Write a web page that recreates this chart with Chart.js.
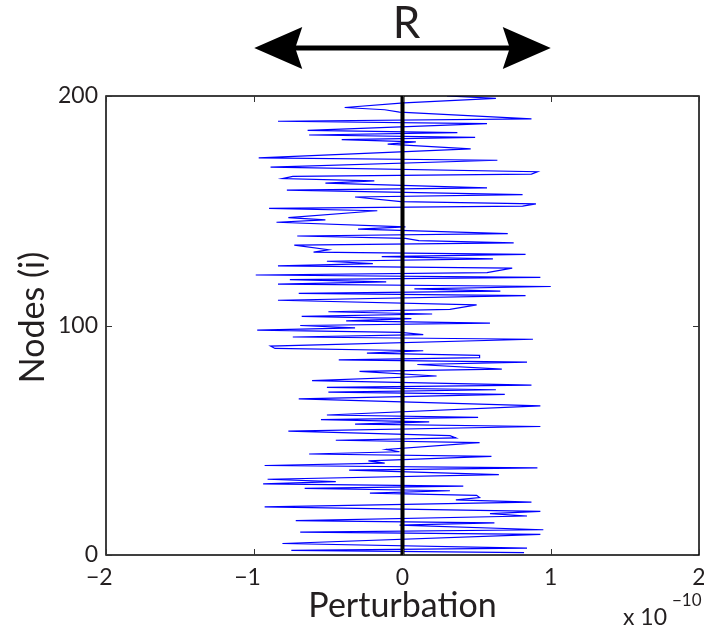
<!DOCTYPE html>
<html>
<head>
<meta charset="utf-8">
<title>Perturbation per node</title>
<script src="https://cdn.jsdelivr.net/npm/chart.js@4.4.0/dist/chart.umd.min.js"></script>
<style>
    html, body { margin: 0; padding: 0; background: #fff; }
    #wrap { width: 704px; height: 628px; }
</style>
</head>
<body>
<div id="wrap"><canvas id="perturbChart" width="704" height="628"></canvas></div>
<script>
// --- Data ---
// node index i, bottom to top; only the visible vertices of the trace
const nodes = [
    1, 2, 3, 5, 9, 10, 11, 13, 14, 15, 17, 18, 19, 21, 23, 24, 25, 26, 27, 28,
    29, 30, 31, 32, 33, 35, 37, 38, 39, 40, 41, 43, 44, 45, 46, 49, 50, 51, 52, 54,
    56, 57, 58, 59, 60, 61, 65, 68, 70, 71, 72, 73, 74, 76, 78, 80, 81, 83, 84, 85,
    86, 87, 88, 89, 90, 91, 94, 95, 96, 97, 98, 99, 100, 101, 102, 103, 104, 105, 106, 107,
    109, 111, 113, 114, 115, 116, 117, 118, 119, 120, 121, 122, 123, 125, 126, 127, 128, 129, 130, 131,
    132, 133, 135, 136, 137, 138, 139, 140, 142, 143, 145, 146, 147, 150, 151, 152, 153, 154, 156, 157,
    159, 160, 162, 163, 164, 165, 166, 167, 169, 172, 173, 177, 179, 180, 181, 182, 183, 184, 185, 188,
    189, 190, 193, 194, 195, 197, 199, 200
];
// perturbation at each node, in units of 1e-10
const perturbation = [
    0.82, -0.75, 0.84, -0.81, 0.93, -0.69, 0.95, -0.02, 0.62, -0.72, 0.84, 0.59, 0.93, -0.93, 0.87, 0.36, 0.52, 0.50, -0.22, 0.32,
    -0.66, 0.41, -0.94, -0.45, -0.91, 0.65, -0.36, 0.91, -0.93, -0.12, -0.23, 0.60, -0.63, -0.02, -0.11, 0.52, -0.45, 0.36, 0.32, -0.77,
    0.93, -0.32, 0.18, -0.55, 0.51, -0.51, 0.93, -0.70, 0.69, -0.50, 0.63, -0.51, 0.87, -0.61, 0.23, -0.29, 0.67, 0.10, 0.84, -0.43,
    0.52, 0.52, -0.24, 0.14, -0.86, -0.89, 0.88, -0.74, 0.14, -0.01, -0.98, -0.32, -0.69, 0.59, -0.38, 0.06, -0.68, 0.20, -0.50, 0.32,
    0.50, -0.84, 0.83, -0.70, 0.66, 0.08, 1.00, -0.84, -0.11, -0.76, 0.93, -0.99, 0.57, 0.74, -0.84, -0.20, -0.51, 0.61, -0.14, 0.83,
    -0.60, -0.50, -0.73, 0.75, 0.11, 0.02, -0.71, 0.71, -0.30, 0.02, -0.85, -0.52, -0.77, -0.17, -0.90, 0.81, 0.90, -0.01, -0.32, 0.81,
    -0.78, 0.57, -0.52, -0.19, -0.81, -0.74, 0.87, 0.91, -0.89, 0.64, -0.97, 0.46, -0.10, 0.09, -0.41, 0.49, -0.63, 0.37, -0.64, 0.57,
    -0.84, 0.87, -0.02, -0.12, -0.39, 0.01, 0.63, 0.30
];

// vertical reference line at zero perturbation
const zeroLineX = [0, 0];
const zeroLineY = [0, 200];

// tick values and labels
const xTicks = [-2, -1, 0, 1, 2];
const yTicks = [0, 100, 200];
const xTitle = "Perturbation";
const yTitle = "Nodes (i)";
const xMultiplier = "x 10";
const xExponent = "\u221210";

// the double arrow "R" spans this range of the x axis
const rangeLabel = "R";
const rangeSpan = [-1, 1];

const FONT = "Lato, 'Open Sans', sans-serif";
const TEXT = "#231f20";

// --- Box, inward ticks, labels and the R arrow ---
const decorations = {
    id: "decorations",
    afterDatasetsDraw(chart) {
        const { ctx, chartArea: a, scales: { x, y } } = chart;
        ctx.save();

        // axes box
        ctx.strokeStyle = "#000";
        ctx.lineWidth = 1.5;
        ctx.strokeRect(a.left, a.top, a.right - a.left, a.bottom - a.top);

        // inward tick marks (top/bottom and left/right)
        ctx.lineWidth = 1;
        ctx.strokeStyle = "#333";
        ctx.beginPath();
        xTicks.forEach(v => {
            const px = Math.round(x.getPixelForValue(v)) + 0.5;
            ctx.moveTo(px, a.bottom); ctx.lineTo(px, a.bottom - 6);
            ctx.moveTo(px, a.top); ctx.lineTo(px, a.top + 6);
        });
        yTicks.forEach(v => {
            const py = Math.round(y.getPixelForValue(v)) + 0.5;
            ctx.moveTo(a.left, py); ctx.lineTo(a.left + 6, py);
            ctx.moveTo(a.right, py); ctx.lineTo(a.right - 6, py);
        });
        ctx.stroke();

        // x tick labels: digit centred on the tick, minus sign hangs to the left
        ctx.fillStyle = TEXT;
        ctx.font = "23px " + FONT;
        ctx.textBaseline = "alphabetic";
        xTicks.forEach(v => {
            const px = x.getPixelForValue(v);
            const digits = String(Math.abs(v));
            const w = ctx.measureText(digits).width;
            ctx.textAlign = "center";
            ctx.fillText(digits, px, a.bottom + 30);
            if (v < 0) {
                ctx.textAlign = "right";
                ctx.fillText("\u2212", px - w / 2, a.bottom + 30);
            }
        });

        // x axis title
        ctx.font = "34px " + FONT;
        ctx.textAlign = "center";
        ctx.fillText(xTitle, (a.left + a.right) / 2, a.bottom + 62);

        // y axis title
        ctx.save();
        ctx.translate(44, (a.top + a.bottom) / 2 - 8);
        ctx.rotate(-Math.PI / 2);
        ctx.fillText(yTitle, 0, 0);
        ctx.restore();

        // x 10^-10 multiplier
        ctx.textAlign = "left";
        ctx.font = "23px " + FONT;
        ctx.fillText(xMultiplier, a.right - 76, a.bottom + 70);
        ctx.font = "17px " + FONT;
        ctx.fillText(xExponent, a.right - 27, a.bottom + 51);

        // R double arrow above the plot
        const x0 = x.getPixelForValue(rangeSpan[0]);
        const x1 = x.getPixelForValue(rangeSpan[1]);
        const ay = 48;
        ctx.strokeStyle = "#000";
        ctx.fillStyle = "#000";
        ctx.lineWidth = 5;
        ctx.beginPath();
        ctx.moveTo(x0 + 40, ay); ctx.lineTo(x1 - 40, ay);
        ctx.stroke();
        [[x0, 1], [x1, -1]].forEach(([tip, dir]) => {
            ctx.beginPath();
            ctx.moveTo(tip, ay);
            ctx.lineTo(tip + dir * 48, ay - 21);
            ctx.lineTo(tip + dir * 41, ay);
            ctx.lineTo(tip + dir * 48, ay + 21);
            ctx.closePath();
            ctx.fill();
        });
        ctx.fillStyle = TEXT;
        ctx.font = "44px " + FONT;
        ctx.textAlign = "center";
        ctx.fillText(rangeLabel, (x0 + x1) / 2 + 4, 38);

        ctx.restore();
    }
};

// --- Chart ---
const ctx = document.getElementById("perturbChart").getContext("2d");
new Chart(ctx, {
    type: "scatter",
    data: {
        datasets: [
            {
                // zero line, drawn on top of the trace
                data: zeroLineX.map((v, k) => ({ x: v, y: zeroLineY[k] })),
                showLine: true,
                borderColor: "#000",
                borderWidth: 4,
                pointRadius: 0
            },
            {
                data: nodes.map((n, k) => ({ x: perturbation[k], y: n })),
                showLine: true,
                borderColor: "#0000ff",
                borderWidth: 1.2,
                pointRadius: 0,
                tension: 0
            }
        ]
    },
    options: {
        responsive: false,
        animation: false,
        devicePixelRatio: 1,
        layout: { padding: { top: 96, right: 5, left: 0, bottom: 0 } },
        plugins: {
            legend: { display: false },
            tooltip: { enabled: false }
        },
        scales: {
            x: {
                type: "linear",
                min: -2,
                max: 2,
                afterBuildTicks: s => { s.ticks = xTicks.map(v => ({ value: v })); },
                ticks: { display: false },
                grid: { display: false, drawTicks: false },
                border: { display: false },
                afterFit: s => { s.height = 73; }
            },
            y: {
                type: "linear",
                min: 0,
                max: 200,
                afterBuildTicks: s => { s.ticks = yTicks.map(v => ({ value: v })); },
                ticks: { padding: 8, color: TEXT, font: { family: FONT, size: 23 } },
                grid: { display: false, drawTicks: false },
                border: { display: false },
                afterFit: s => { s.width = 106; }
            }
        }
    },
    plugins: [decorations]
});
</script>
</body>
</html>
